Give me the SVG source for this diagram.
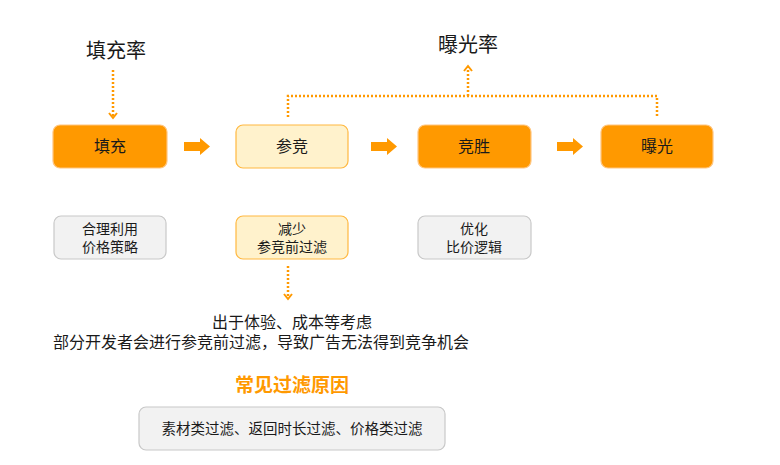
<svg xmlns="http://www.w3.org/2000/svg" width="780" height="465" viewBox="0 0 780 465">
<style>
text{font-family:"Noto Sans CJK SC","Noto Sans",sans-serif;fill:#1a1a1a;text-anchor:middle}
.big{font-size:20px}
.n{font-size:16px}
.s{font-size:14px}
.solid{fill:#FF9900;stroke:#FFC680;stroke-width:1.2}
.light{fill:#FFF2CC;stroke:#FFB840;stroke-width:1.2}
.gray{fill:#F2F2F2;stroke:#C8C8C8;stroke-width:1.2}
.dot{fill:none;stroke:#FF9900;stroke-width:2.5;stroke-dasharray:2 2}
.blk{fill:#FF9900}
</style>
<defs>
<marker id="chev" markerWidth="10" markerHeight="10" refX="5" refY="5" orient="auto" markerUnits="userSpaceOnUse">
<path d="M1,1 L6,5 L1,9" fill="none" stroke="#FF9900" stroke-width="2"/>
</marker>
</defs>
<text class="big" x="116" y="58">填充率</text>
<text class="big" x="468" y="52">曝光率</text>
<g id="connectors">
<path class="dot" d="M113,70 V117" marker-end="url(#chev)"/>
<path class="dot" d="M288,117 V96 H657 V117"/>
<path class="dot" d="M468,96 V67" marker-end="url(#chev)"/>
<path class="dot" d="M288,266 V298" marker-end="url(#chev)"/>
<path class="blk" d="M184,142 H200 V138 L210,146.5 L200,155 V151 H184 Z"/>
<path class="blk" d="M371,142 H387 V138 L397,146.5 L387,155 V151 H371 Z"/>
<path class="blk" d="M557,142 H573 V138 L583,146.5 L573,155 V151 H557 Z"/>
</g>
<g id="n-tianchong"><rect class="solid" x="53" y="125" width="114" height="43" rx="7"/><text class="n" x="110" y="152">填充</text></g>
<g id="n-canjing"><rect class="light" x="236" y="125" width="112" height="43" rx="7"/><text class="n" x="292" y="152">参竞</text></g>
<g id="n-jingsheng"><rect class="solid" x="418" y="125" width="113" height="43" rx="7"/><text class="n" x="474" y="152">竞胜</text></g>
<g id="n-baoguang"><rect class="solid" x="601" y="125" width="112" height="43" rx="7"/><text class="n" x="657" y="152">曝光</text></g>
<g id="n-heli"><rect class="gray" x="54" y="216" width="112" height="43" rx="7"/><text class="s" x="110" y="234">合理利用</text><text class="s" x="110" y="252">价格策略</text></g>
<g id="n-jianshao"><rect class="light" x="236" y="216" width="112" height="43" rx="7"/><text class="s" x="292" y="234">减少</text><text class="s" x="292" y="252">参竞前过滤</text></g>
<g id="n-youhua"><rect class="gray" x="418" y="216" width="113" height="43" rx="7"/><text class="s" x="474" y="234">优化</text><text class="s" x="474" y="252">比价逻辑</text></g>
<g id="n-note">
<text class="n" x="292" y="328">出于体验、成本等考虑</text>
<text class="n" x="261" y="348">部分开发者会进行参竞前过滤，导致广告无法得到竞争机会</text>
</g>
<text x="292" y="392" style="font-size:19px;font-weight:bold;fill:#FF9900">常见过滤原因</text>
<g id="n-reasons"><rect class="gray" x="139" y="407" width="306" height="43" rx="7"/><text x="292" y="434" style="font-size:14.5px">素材类过滤、返回时长过滤、价格类过滤</text></g>
</svg>
